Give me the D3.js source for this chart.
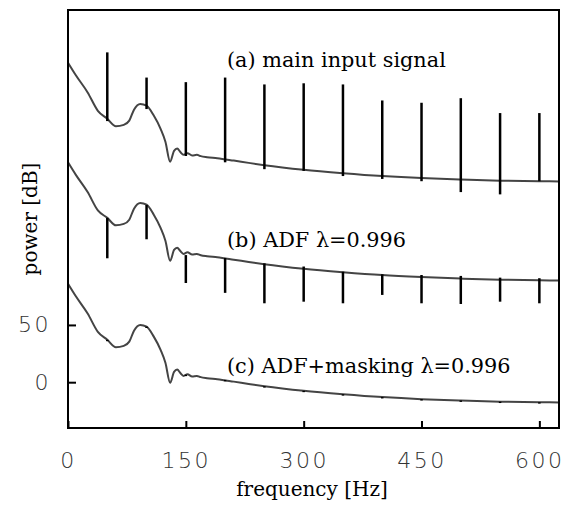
<!DOCTYPE html>
<html>
<head>
<meta charset="utf-8">
<script src="https://cdn.jsdelivr.net/npm/d3@7"></script>
<style>
  body { margin: 0; background: #fff; }
  .tick text { font-family: "DejaVu Sans", sans-serif; font-weight: 200; font-size: 22px; fill: #333; letter-spacing: 2.5px; }
  .lbl { font-family: "DejaVu Serif", serif; font-size: 20px; fill: #000; }
  .ann { font-size: 20.8px; }
</style>
</head>
<body>
<script>
// Constants
var w = 573,
    h = 506,
    padLeft = 68, padRight = 559, padTop = 10, padBottom = 428;

// Spectrum envelope, frequency in Hz
var freqs = [0, 10, 25, 38, 50, 61, 71, 78, 84, 92, 100, 109, 118, 124, 130, 135, 139, 143, 147, 152,
             158, 164, 169, 177, 190, 211, 230, 250, 300, 350, 400, 450, 500, 550, 600, 625];
// (a) main input signal, shifted up in the plot
var powerA = [279, 268, 253, 237, 230, 223.5, 224.7, 228.4, 238, 243, 241.5, 233, 221, 210, 192.5, 202, 204, 201, 198.5, 200,
              198, 198.5, 197.4, 196.5, 195.6, 193.5, 191.5, 189.5, 185.5, 182.5, 180, 178.2, 177, 176, 175.5, 175.3];
// (b) ADF
var powerB = [192, 181, 166, 150, 143.5, 137, 138.2, 141.9, 151.5, 156.5, 155, 146.5, 134.5, 123.5, 106, 115.5, 117.5, 114.5, 112, 113.5,
              111.5, 112, 110.9, 110, 109.1, 107, 105, 103, 99, 96, 93.5, 91.8, 90.5, 89.5, 89, 88.8];
// (c) ADF+masking
var powerC = [86, 75, 60, 44, 37, 30.5, 31.7, 35.4, 45, 50, 48.5, 40, 28, 17, -0.5, 9, 11, 8, 5.5, 7,
              5, 5.5, 4.4, 3.5, 2.6, 0.5, -1.5, -3.5, -7.5, -10.5, -13, -14.8, -16, -17, -17.5, -17.7];

// Harmonic lines (top / bottom of each vertical line)
var harmonics = [50, 100, 150, 200, 250, 300, 350, 400, 450, 500, 550, 600];
var spikeTopA = [288, 266, 262, 266, 260, 261, 260, 246, 244, 248, 235, 235];
var spikeBotA = [228, 238.5, 197.5, 192, 186, 184.5, 180, 177.5, 175.5, 166, 164, 175.5];
var spikeTopB = [143.5, 154.7, 111, 108.5, 103.8, 101, 96.5, 94.2, 93.6, 92.8, 91.3, 90.8];
var spikeBotB = [108.2, 124.8, 86.6, 78, 68.9, 70.3, 68.9, 76.2, 68.9, 68.3, 70.3, 68.9];
var spikeTopC = [37, 48.5, 6.5, 2, -3.5, -7.5, -10.5, -13, -14.8, -16, -17, -17.5];
var spikeBotC = [35.8, 47.3, 5.3, 0.8, -4.7, -8.7, -11.7, -14.2, -16, -17.2, -18.2, -18.7];

var xTicks = [0, 150, 300, 450, 600];
var yTicks = [0, 50];
var labels = ["(a) main input signal", "(b) ADF \u03bb=0.996", "(c) ADF+masking \u03bb=0.996"];

// Scales
var xScale = d3.scaleLinear().domain([0, 625]).range([padLeft, padRight]);
var yScale = d3.scaleLinear().domain([-40, 325]).range([padBottom, padTop]);

var svg = d3.select('body')
            .append('svg')
            .attr('width', w)
            .attr('height', h);

svg.append('rect').attr('width', w).attr('height', h).attr('fill', '#fff');

var line = d3.line()
             .x(function(d) { return xScale(d[0]); })
             .y(function(d) { return yScale(d[1]); })
             .curve(d3.curveMonotoneX);

// envelopes
[powerA, powerB, powerC].forEach(function(p) {
  svg.append('path')
     .datum(freqs.map(function(f, i) { return [f, p[i]]; }))
     .attr('d', line)
     .attr('fill', 'none')
     .attr('stroke', '#444')
     .attr('stroke-width', 2);
});

// harmonic lines
[[spikeTopA, spikeBotA], [spikeTopB, spikeBotB], [spikeTopC, spikeBotC]].forEach(function(s) {
  svg.selectAll(null)
     .data(harmonics)
     .enter()
     .append('line')
     .attr('x1', function(d) { return xScale(d); })
     .attr('x2', function(d) { return xScale(d); })
     .attr('y1', function(d, i) { return yScale(s[0][i]); })
     .attr('y2', function(d, i) { return yScale(s[1][i]); })
     .attr('stroke', '#000')
     .attr('stroke-width', 2.5);
});

// axes (ticks point inward)
var xAxis = d3.axisBottom(xScale).tickValues(xTicks).tickSize(-7).tickPadding(24);
var yAxis = d3.axisLeft(yScale).tickValues(yTicks).tickSize(-8).tickPadding(17);

var gx = svg.append('g')
   .attr('transform', 'translate(0,' + padBottom + ')')
   .call(xAxis);
var gy = svg.append('g')
   .attr('transform', 'translate(' + padLeft + ',0)')
   .call(yAxis);
[gx, gy].forEach(function(g) {
  g.select('.domain').remove();
  g.selectAll('.tick line').attr('stroke', '#000').attr('stroke-width', 2);
});

// frame
svg.append('rect')
   .attr('x', padLeft).attr('y', padTop)
   .attr('width', padRight - padLeft).attr('height', padBottom - padTop)
   .attr('fill', 'none')
   .attr('stroke', '#000')
   .attr('stroke-width', 2);

// annotations
var labelY = [67, 247, 373];
svg.selectAll('text.ann')
   .data(labels)
   .enter()
   .append('text')
   .attr('class', 'ann lbl')
   .attr('x', 227)
   .attr('y', function(d, i) { return labelY[i]; })
   .text(function(d) { return d; });

svg.append('text')
   .attr('class', 'lbl')
   .attr('x', 312).attr('y', 496)
   .attr('text-anchor', 'middle')
   .text('frequency [Hz]');

svg.append('text')
   .attr('class', 'lbl')
   .attr('transform', 'translate(37,219) rotate(-90)')
   .attr('text-anchor', 'middle')
   .text('power [dB]');
</script>
</body>
</html>
